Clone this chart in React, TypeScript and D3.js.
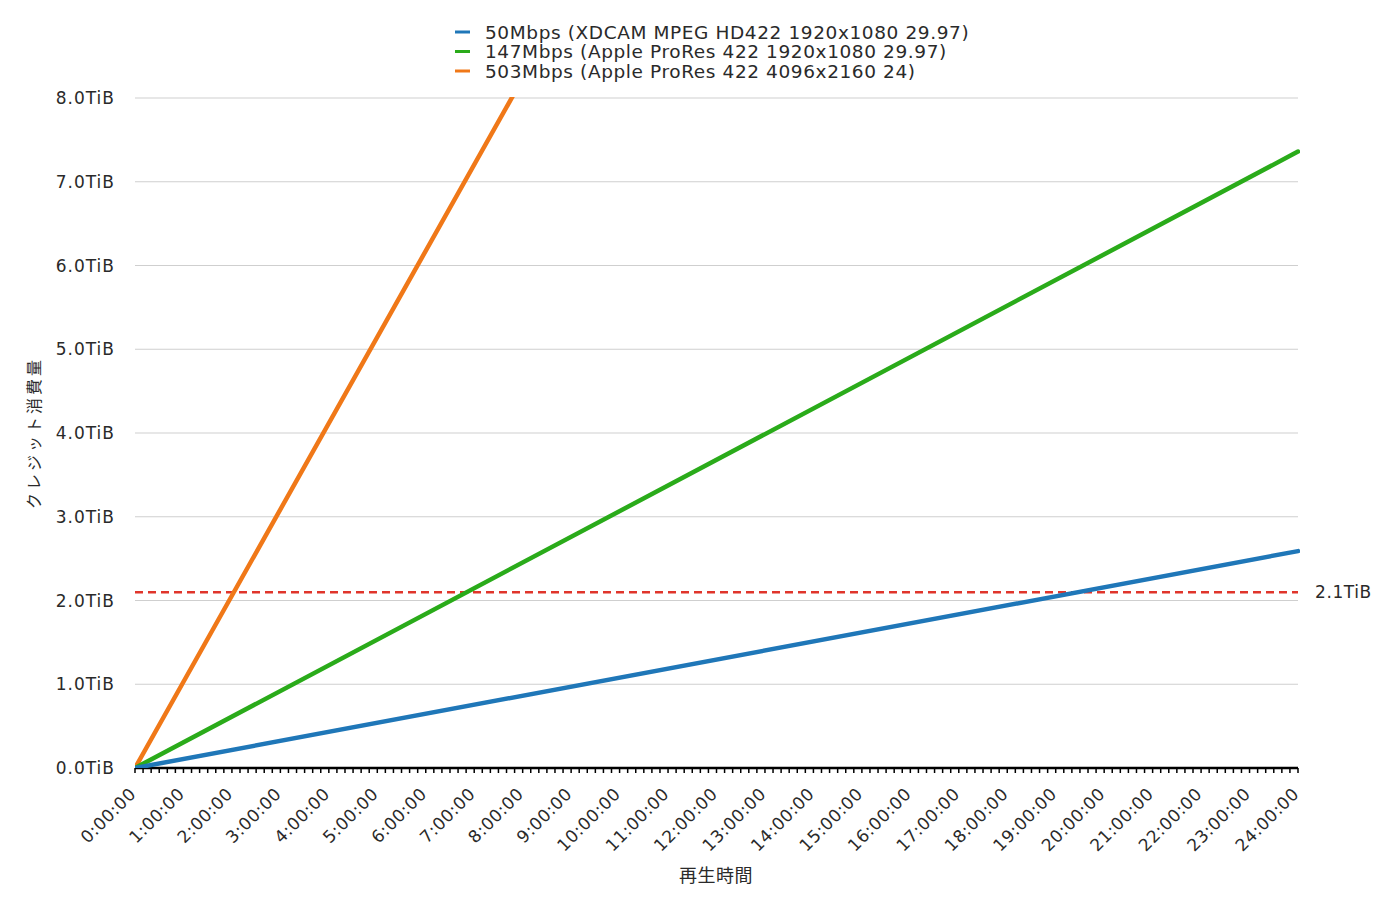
import React from "react";
import * as d3 from "d3";

const hours = [0, 24];
const seriesNames = [
  "50Mbps (XDCAM MPEG HD422 1920x1080 29.97)",
  "147Mbps (Apple ProRes 422 1920x1080 29.97)",
  "503Mbps (Apple ProRes 422 4096x2160 24)",
];
const seriesColors = ["#1f77b8", "#2aab1a", "#f07818"];
const blueValues = [0, 2.59];
const greenValues = [0, 7.36];
const orangeValues = [0, 24.7];
const yTicks = [0, 1, 2, 3, 4, 5, 6, 7, 8];
const xTicks = d3.range(0, 25);
const thresholdValue = 2.1;
const thresholdLabel = "2.1TiB";
const yTitle = "クレジット消費量";
const xTitle = "再生時間";

const W = 1400, H = 907;
const left = 135, right = 1298, top = 98, bottom = 768;
const font = "'DejaVu Sans', 'Noto Sans CJK JP', sans-serif";
const cjk = "'Noto Sans CJK JP', sans-serif";

export default function App() {
  const x = d3.scaleLinear().domain([0, 24]).range([left, right]);
  const y = d3.scaleLinear().domain([0, 8]).range([bottom, top]);
  const line = d3.line<number>().x((_, i) => x(hours[i])).y((d) => y(d));
  const all = [blueValues, greenValues, orangeValues];
  const minor = d3.range(0, 24 * 6 + 1).map((i) => i / 6);
  return (
    <svg width={W} height={H} style={{ position: "absolute", left: 0, top: 0, background: "#fff" }} fontFamily={font}>
      <defs>
        <clipPath id="plot">
          <rect x={left} y={top - 1} width={right - left + 2} height={bottom - top + 1} />
        </clipPath>
      </defs>
      {yTicks.map((t) => (
        <g key={t}>
          {t > 0 && <line x1={left} x2={right} y1={y(t)} y2={y(t)} stroke="#cfcfcf" strokeWidth={1} />}
          <text x={115} y={y(t)} dy="0.36em" textAnchor="end" fontSize={17} letterSpacing={1} fill="#2a2a2a">
            {t.toFixed(1)}TiB
          </text>
        </g>
      ))}
      <line x1={left} x2={right} y1={bottom} y2={bottom} stroke="#000" strokeWidth={2.5} />
      {minor.map((m, i) => (
        <line key={i} x1={x(m)} x2={x(m)} y1={bottom} y2={bottom + 5} stroke="#000" strokeWidth={1.5} />
      ))}
      {xTicks.map((h) => (
        <text
          key={h}
          transform={`translate(${x(h) + 2},${bottom + 27}) rotate(-45)`}
          textAnchor="end"
          fontSize={17}
          letterSpacing={0.6}
          fill="#2a2a2a"
        >
          {`${h}:00:00`}
        </text>
      ))}
      <line
        x1={left}
        x2={right}
        y1={y(thresholdValue)}
        y2={y(thresholdValue)}
        stroke="#e0352b"
        strokeWidth={2.5}
        strokeDasharray="8,5"
      />
      <text x={1315} y={y(thresholdValue)} dy="0.36em" fontSize={17} letterSpacing={0.6} fill="#2a2a2a">
        {thresholdLabel}
      </text>
      <g clipPath="url(#plot)">
        {[orangeValues, greenValues, blueValues].map((vals) => {
          const idx = all.indexOf(vals);
          return (
            <path key={idx} d={line(vals) || ""} fill="none" stroke={seriesColors[idx]} strokeWidth={4.5} strokeLinecap="round" />
          );
        })}
      </g>
      {seriesNames.map((n, i) => (
        <g key={n}>
          <line x1={455} x2={470} y1={32 + i * 19.5} y2={32 + i * 19.5} stroke={seriesColors[i]} strokeWidth={3} />
          <text x={485} y={32 + i * 19.5} dy="0.36em" fontSize={18.5} letterSpacing={0.6} fill="#2a2a2a">
            {n}
          </text>
        </g>
      ))}
      <text
        transform={`translate(34,${(top + bottom) / 2}) rotate(-90)`}
        textAnchor="middle"
        dy="0.36em"
        fontSize={16}
        letterSpacing={3}
        fontFamily={cjk}
        fill="#2a2a2a"
      >
        {yTitle}
      </text>
      <text x={716} y={876} textAnchor="middle" dy="0.36em" fontSize={18} letterSpacing={0.5} fontFamily={cjk} fill="#2a2a2a">
        {xTitle}
      </text>
    </svg>
  );
}
